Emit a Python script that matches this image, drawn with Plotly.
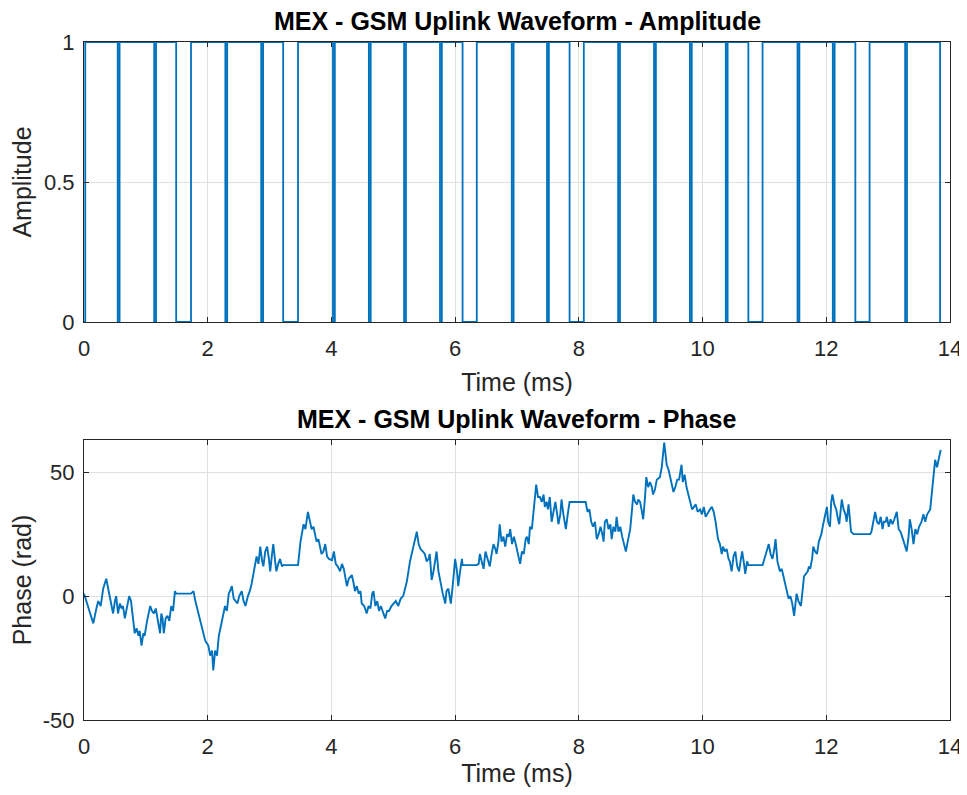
import plotly.graph_objects as go

# ---------------- data ----------------
# Amplitude: times (ms) of short guard drops to zero, and longer zero intervals
narrow_gap_ms = [0.56, 1.15, 2.30, 2.88, 4.04, 4.62, 5.19, 5.77, 6.93, 7.50,
                 8.65, 9.23, 9.81, 10.39, 11.55, 12.12, 13.29]
narrow_gap_width_ms = 0.03
wide_gap_start_ms = [1.49, 3.22, 6.12, 7.85, 10.74, 12.47]
wide_gap_end_ms = [1.73, 3.46, 6.35, 8.08, 10.97, 12.70]
amp_start_ms, amp_end_ms = 0.0, 13.85
amp_first_rise_ms = 0.02
amp_last_fall_ms = 13.84

# Phase (rad)
phase_t = [
    0.00, 0.05, 0.10, 0.15, 0.20, 0.23, 0.27, 0.31, 0.36, 0.39, 0.42, 0.45, 0.47, 0.50, 0.52,
    0.55, 0.58, 0.61, 0.63, 0.66, 0.70, 0.73, 0.76, 0.79, 0.82, 0.85, 0.88, 0.90, 0.93, 0.96,
    0.98, 1.02, 1.07, 1.10, 1.13, 1.16, 1.20, 1.23, 1.25, 1.27, 1.29, 1.32, 1.35, 1.38, 1.41,
    1.44, 1.47, 1.49, 1.73, 1.77, 1.80, 1.84, 1.88, 1.92, 1.96, 2.01, 2.04, 2.07, 2.09, 2.12,
    2.15, 2.18, 2.21, 2.25, 2.28, 2.31, 2.34, 2.36, 2.39, 2.42, 2.45, 2.48, 2.51, 2.55, 2.58,
    2.61, 2.65, 2.68, 2.71, 2.74, 2.77, 2.79, 2.82, 2.85, 2.88, 2.90, 2.93, 2.96, 2.99, 3.01,
    3.04, 3.06, 3.09, 3.11, 3.14, 3.17, 3.20, 3.22, 3.46, 3.50, 3.55, 3.58, 3.62, 3.65, 3.68,
    3.71, 3.73, 3.76, 3.79, 3.82, 3.84, 3.87, 3.90, 3.93, 3.96, 4.01, 4.04, 4.07, 4.10, 4.14,
    4.17, 4.20, 4.25, 4.28, 4.33, 4.36, 4.38, 4.41, 4.44, 4.47, 4.49, 4.53, 4.57, 4.60, 4.63,
    4.66, 4.68, 4.71, 4.74, 4.77, 4.80, 4.84, 4.87, 4.90, 4.93, 4.97, 5.00, 5.04, 5.08, 5.12,
    5.16, 5.19, 5.22, 5.27, 5.31, 5.35, 5.38, 5.41, 5.44, 5.48, 5.51, 5.54, 5.57, 5.59, 5.62,
    5.65, 5.70, 5.73, 5.76, 5.80, 5.84, 5.86, 5.89, 5.93, 5.96, 6.00, 6.03, 6.05, 6.08, 6.11,
    6.12, 6.35, 6.38, 6.40, 6.43, 6.46, 6.49, 6.53, 6.56, 6.59, 6.62, 6.65, 6.67, 6.70, 6.72,
    6.75, 6.78, 6.81, 6.84, 6.87, 6.89, 6.92, 6.95, 6.98, 7.01, 7.05, 7.08, 7.11, 7.14, 7.16,
    7.19, 7.21, 7.24, 7.27, 7.31, 7.34, 7.37, 7.40, 7.43, 7.45, 7.48, 7.50, 7.53, 7.56, 7.59,
    7.62, 7.65, 7.67, 7.70, 7.72, 7.75, 7.79, 7.82, 7.85, 8.08, 8.11, 8.14, 8.17, 8.20, 8.23,
    8.26, 8.29, 8.32, 8.35, 8.38, 8.40, 8.42, 8.45, 8.48, 8.51, 8.53, 8.56, 8.59, 8.61, 8.64,
    8.67, 8.70, 8.73, 8.76, 8.79, 8.83, 8.86, 8.88, 8.91, 8.94, 8.96, 8.99, 9.02, 9.04, 9.07,
    9.09, 9.12, 9.15, 9.18, 9.20, 9.23, 9.26, 9.31, 9.34, 9.38, 9.40, 9.42, 9.45, 9.48, 9.50,
    9.53, 9.56, 9.59, 9.62, 9.66, 9.68, 9.71, 9.74, 9.77, 9.80, 9.83, 9.86, 9.89, 9.92, 9.96,
    9.99, 10.02, 10.05, 10.09, 10.12, 10.15, 10.18, 10.21, 10.25, 10.28, 10.31, 10.33, 10.36, 10.39, 10.42,
    10.44, 10.47, 10.50, 10.53, 10.56, 10.59, 10.62, 10.64, 10.67, 10.69, 10.72, 10.74, 10.97, 11.01, 11.04,
    11.07, 11.10, 11.13, 11.16, 11.18, 11.21, 11.25, 11.28, 11.31, 11.33, 11.36, 11.39, 11.42, 11.45, 11.48,
    11.50, 11.52, 11.55, 11.59, 11.62, 11.64, 11.67, 11.70, 11.72, 11.74, 11.77, 11.79, 11.82, 11.85, 11.88,
    11.92, 11.95, 11.98, 12.01, 12.03, 12.06, 12.08, 12.10, 12.13, 12.16, 12.19, 12.21, 12.25, 12.28, 12.31,
    12.33, 12.36, 12.38, 12.40, 12.44, 12.71, 12.73, 12.76, 12.79, 12.82, 12.85, 12.88, 12.91, 12.93, 12.96,
    12.98, 13.01, 13.04, 13.07, 13.10, 13.14, 13.17, 13.20, 13.24, 13.27, 13.30, 13.33, 13.35, 13.38, 13.41,
    13.44, 13.47, 13.50, 13.54, 13.57, 13.60, 13.63, 13.66, 13.68, 13.72, 13.76, 13.79, 13.83, 13.85,
]
phase_rad = [
    1, -3, -6, -11, -5, -2, -4, 3, 7, 3, -1, -5, -7, -2, 0,
    -7, -3, -5, -4, -9, -3, 0, -2, -8, -15, -13, -16, -14, -20, -15,
    -16, -10, -4, -6, -7, -5, -10, -15, -7, -9, -15, -9, -8, -10, -4,
    -6, 2, 1, 1, 2, -2, -6, -10, -13, -18, -20, -24, -22, -30, -22,
    -24, -16, -12, -7, -4, -6, 1, 2, 4, -1, -2, -3, 0, 2, -2,
    -4, 0, 2, 5, 9, 13, 16, 13, 20, 14, 12, 18, 20, 15, 10,
    17, 21, 14, 10, 13, 15, 12, 12.5, 12.5, 22, 29, 27, 34, 30, 27,
    28, 25, 22, 23, 20, 17, 18, 21, 16, 15, 14.5, 18, 13, 12, 10,
    13, 11, 4, 7, 8.5, 5, 2, 4, 1, 2, -3, -4, -7, -4, -5,
    1, 2, -4, -2, -6, -4, -7, -9, -6, -6, -4, -3, -2, -4, -1,
    0, 3, 6, 14, 18, 22, 26, 21, 19, 18, 17, 14, 15, 17, 6.5,
    10, 18, 10, 6, 1, -3, 2, 3, -3, 4, 15, 10, 4, 10, 15,
    12.5, 12.5, 13, 17, 14, 11, 18, 14, 12, 17, 21, 19, 17, 22, 29,
    22, 24, 20, 25, 24, 27, 21, 24, 21, 18, 13, 18, 17, 23, 24,
    21, 28, 27, 34, 45, 40, 40, 38, 41, 36, 38, 35, 40, 30, 35,
    38, 33, 29, 33, 39, 33, 27, 33, 38, 38, 38, 34, 35, 30, 28,
    30, 23, 25, 28, 25, 22, 30, 31, 27, 29, 23, 28, 26, 32, 26,
    28, 24, 21, 18, 22, 27, 35, 41, 38, 37, 39, 38, 34, 31, 40,
    48, 44, 46, 44, 41, 43, 47, 48, 52, 62, 56, 53, 51, 48, 45,
    42, 44, 47, 47, 53, 46, 49, 44, 41, 39, 35, 36, 37, 34, 35,
    33, 36, 32, 34, 35, 36, 34, 30, 23, 21, 17, 20, 18, 19, 15,
    14, 10, 16, 18, 12, 10, 15, 18, 13, 9, 14, 12.5, 12.5, 16, 18.5,
    21, 17, 15, 19, 23, 14, 10, 11, 8, 5, 2, -1, 0, -3, -8,
    -2, 1, -2, -4, 3, 8, 9, 10, 12, 11, 15, 20, 18, 17, 22,
    25, 29, 33, 36, 30, 28, 38, 41, 37, 35, 31, 29, 39, 35, 33,
    30, 37, 32, 26, 25, 25, 26, 30, 34, 30, 29, 32, 27, 30, 30,
    32, 28, 31, 29, 31, 34, 27, 26, 23, 20, 18, 24, 31, 27, 21,
    27, 25, 28, 30, 33, 30, 33, 34, 35, 45, 55, 52, 57, 59,
]

x_ticks = [0, 2, 4, 6, 8, 10, 12, 14]
amp_ticks = [0, 0.5, 1]
amp_tick_text = ["0", "0.5", "1"]
phase_ticks = [-50, 0, 50]
phase_tick_text = ["-50", "0", "50"]
phase_range = [-50, 63]

title_amp = "MEX - GSM Uplink Waveform - Amplitude"
title_phase = "MEX - GSM Uplink Waveform - Phase"

# ---------------- build amplitude step trace ----------------
gaps = [(g - narrow_gap_width_ms / 2, g + narrow_gap_width_ms / 2) for g in narrow_gap_ms]
gaps += list(zip(wide_gap_start_ms, wide_gap_end_ms))
gaps.sort()
amp_x = [amp_start_ms, amp_first_rise_ms, amp_first_rise_ms]
amp_y = [0, 0, 1]
for a, b in gaps:
    amp_x += [a, a, b, b]
    amp_y += [1, 0, 0, 1]
amp_x += [amp_last_fall_ms, amp_last_fall_ms, amp_end_ms]
amp_y += [1, 0, 0]

# ---------------- figure ----------------
# page body has an 8px margin, so the figure is sized/offset accordingly
W, H = 959, 779
ml, mr, mt, mb = 76, 17, 34, 67
plot_h = H - mt - mb
ax_h = 280
blue = "#0072BD"
axis_col = "#262626"
grid_col = "#e0e0e0"
font_family = "Arial, 'Liberation Sans', Helvetica, sans-serif"
tick_size = 22
label_size = 25
title_size = 25

fig = go.Figure()
fig.add_trace(go.Scatter(x=amp_x, y=amp_y, mode="lines",
                         line=dict(color=blue, width=1.8), xaxis="x", yaxis="y",
                         showlegend=False, hoverinfo="skip"))
fig.add_trace(go.Scatter(x=phase_t, y=phase_rad, mode="lines",
                         line=dict(color=blue, width=1.9), xaxis="x2", yaxis="y2",
                         showlegend=False, hoverinfo="skip"))

common_x = dict(range=[0, 14], tickvals=x_ticks, ticks="inside", ticklen=5,
                tickcolor=axis_col, showline=True, linecolor=axis_col, linewidth=1,
                mirror="ticks", showgrid=True, gridcolor=grid_col, gridwidth=1,
                zeroline=False, automargin=False, ticklabelstandoff=7,
                tickfont=dict(size=tick_size, color=axis_col, family=font_family),
                title=dict(text="Time (ms)", font=dict(size=label_size, color=axis_col, family=font_family),
                           standoff=13))
common_y = dict(ticks="inside", ticklen=5, tickcolor=axis_col, showline=True,
                linecolor=axis_col, linewidth=1, mirror="ticks", showgrid=True,
                gridcolor=grid_col, gridwidth=1, zeroline=False, automargin=False,
                ticklabelstandoff=4,
                tickfont=dict(size=tick_size, color=axis_col, family=font_family))

top_dom = [(plot_h - ax_h) / plot_h, 1.0]
bot_dom = [0.0, ax_h / plot_h]

fig.update_layout(
    width=W, height=H,
    margin=dict(l=ml, r=mr, t=mt, b=mb),
    paper_bgcolor="white", plot_bgcolor="white",
    font=dict(family=font_family, color=axis_col),
    xaxis=dict(common_x, anchor="y", domain=[0, 1]),
    yaxis=dict(common_y, anchor="x", domain=top_dom, range=[0, 1],
               tickvals=amp_ticks, ticktext=amp_tick_text,
               title=dict(text="Amplitude", font=dict(size=label_size, color=axis_col, family=font_family),
                          standoff=8)),
    xaxis2=dict(common_x, anchor="y2", domain=[0, 1]),
    yaxis2=dict(common_y, anchor="x2", domain=bot_dom, range=phase_range,
                tickvals=phase_ticks, ticktext=phase_tick_text,
                title=dict(text="Phase (rad)", font=dict(size=label_size, color=axis_col, family=font_family),
                           standoff=8)),
    annotations=[
        dict(text="<b>" + title_amp + "</b>", x=0.5, xref="paper", y=top_dom[1], yref="paper",
             yanchor="bottom", yshift=5, showarrow=False,
             font=dict(size=title_size, color="black", family=font_family)),
        dict(text="<b>" + title_phase + "</b>", x=0.5, xref="paper", y=bot_dom[1], yref="paper",
             yanchor="bottom", yshift=5, showarrow=False,
             font=dict(size=title_size, color="black", family=font_family)),
    ],
)

fig.write_html("out.html")
